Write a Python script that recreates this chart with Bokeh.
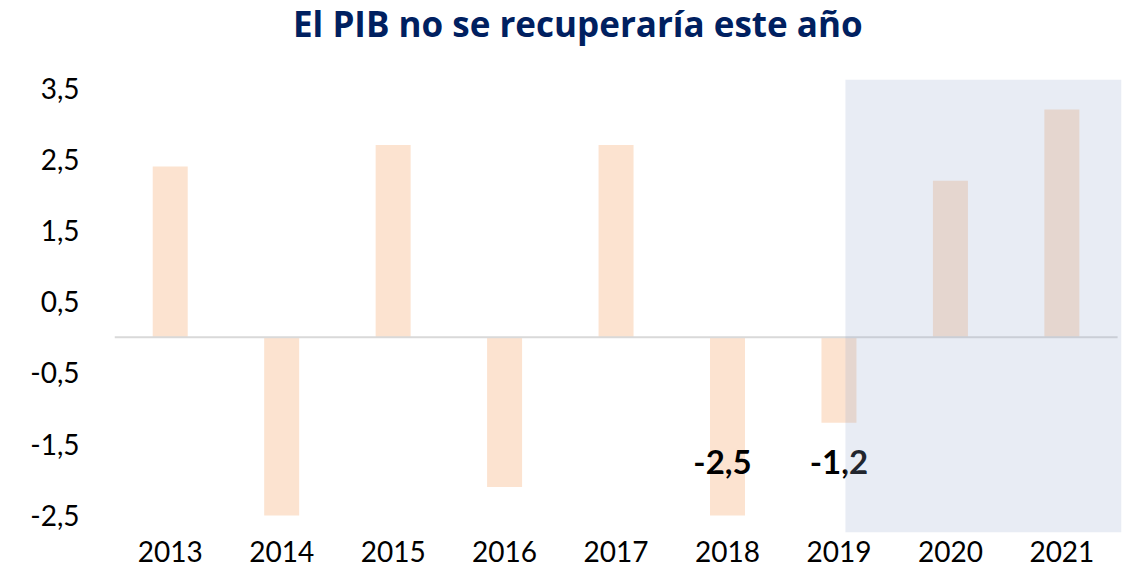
from bokeh.plotting import figure
from bokeh.models import Range1d, FixedTicker, Div, ColumnDataSource
from bokeh.layouts import column
from bokeh.core.properties import value
from bokeh.embed import file_html
from bokeh.resources import INLINE

years = ["2013", "2014", "2015", "2016", "2017", "2018", "2019", "2020", "2021"]
gdp = [2.4, -2.5, 2.7, -2.1, 2.7, -2.5, -1.2, 2.2, 3.2]
label_years = ["2018", "2019"]
label_texts = ["-2,5", "-1,2"]
label_level = -1.75
y_ticks = [-2.5, -1.5, -0.5, 0.5, 1.5, 2.5, 3.5]
y_tick_labels = ["-2,5", "-1,5", "-0,5", "0,5", "1,5", "2,5", "3,5"]
forecast_start = 6.558  # x position where shaded forecast area begins
title_text = "El PIB no se recuperaría este año"

FONT = "Lato"
X_MAX = 9.035
Y_MIN, Y_MAX = -2.74, 3.62
W = 1122
TITLE_H = 48

xs = [i + 0.5 for i in range(len(years))]

title_div = Div(
    text=('<div style="font-family:\'Open Sans\';font-size:35px;font-weight:bold;'
          'color:#002060;line-height:48px;height:48px;white-space:nowrap;'
          'text-align:left;text-indent:293px;margin:0;padding:0;">'
          + title_text + '</div>'),
    width=W, height=TITLE_H, margin=0)

p = figure(width=W, height=574 - TITLE_H, output_backend="svg", toolbar_location=None,
           x_range=Range1d(0, X_MAX), y_range=Range1d(Y_MIN, Y_MAX),
           min_border_left=114, min_border_right=1, min_border_top=79 - TITLE_H,
           min_border_bottom=42, margin=0)
p.outline_line_color = None
p.background_fill_color = "white"
p.border_fill_color = "white"
p.grid.visible = False

src = ColumnDataSource(dict(x=xs, top=gdp, year=years))
p.vbar(x="x", top="top", bottom=0, width=0.314, source=src,
       fill_color="#FCE3D0", line_color=None)

p.segment(x0=[0], x1=[9], y0=[0], y1=[0], line_color="#D9D9D9", line_width=2)

lab_x = [xs[years.index(y)] for y in label_years]
p.text(x=lab_x, y=[label_level] * len(lab_x), text=label_texts,
       x_offset=[-5, 0],
       text_font=value(FONT), text_font_size="33px", text_font_style="bold",
       text_color="black", text_align="center", text_baseline="middle")

p.quad(left=[forecast_start], right=[X_MAX], bottom=[Y_MIN], top=[Y_MAX],
       fill_color=(150, 170, 205), fill_alpha=0.22, line_color=None)

p.xaxis.ticker = FixedTicker(ticks=xs)
p.xaxis.major_label_overrides = {x: y for x, y in zip(xs, years)}
p.yaxis.ticker = FixedTicker(ticks=y_ticks)
p.yaxis.major_label_overrides = {v: s for v, s in zip(y_ticks, y_tick_labels)}

for ax in (p.xaxis[0], p.yaxis[0]):
    ax.axis_line_color = None
    ax.major_tick_line_color = None
    ax.minor_tick_line_color = None
    ax.major_tick_in = 0
    ax.major_tick_out = 0
    ax.minor_tick_in = 0
    ax.minor_tick_out = 0
    ax.major_label_text_font = FONT
    ax.major_label_text_font_size = "28px"
    ax.major_label_text_color = "black"
p.yaxis.major_label_standoff = 35
p.xaxis.major_label_standoff = 8

layout = column(title_div, p, spacing=0, margin=0)

open("out.html", "w").write(file_html(layout, INLINE))
